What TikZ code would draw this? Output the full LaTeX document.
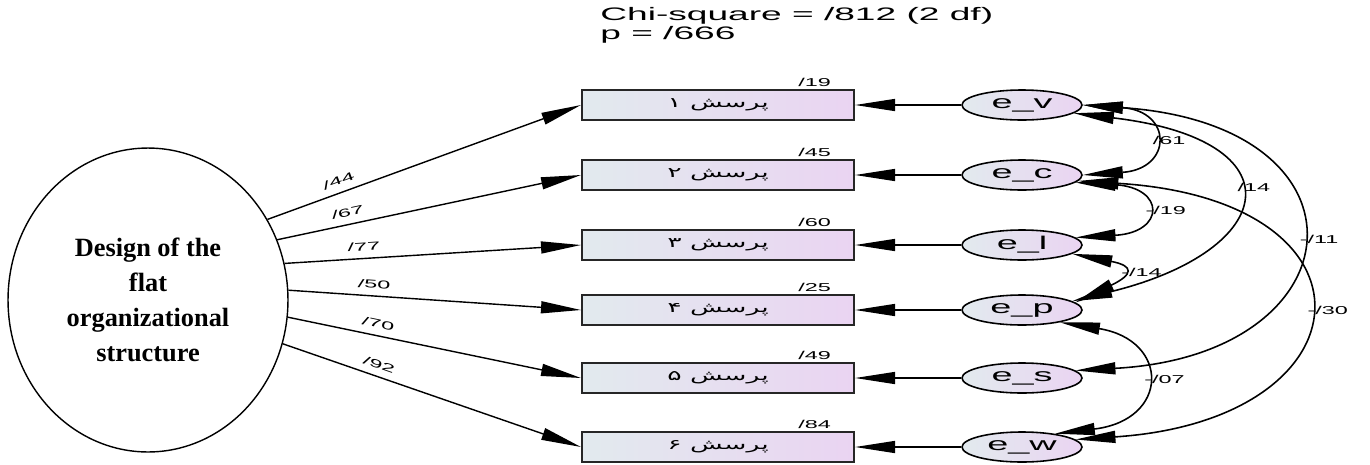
\documentclass[tikz,border=0pt]{standalone}
\usepackage{fontspec}
\setmainfont{Liberation Serif}
\newfontfamily\amosfont[FakeStretch=2.05]{Liberation Sans}
\newfontfamily\persfont[Script=Arabic,FakeStretch=1.9]{DejaVu Sans}
\TeXXeTstate=1
\usetikzlibrary{shapes.geometric,arrows.meta}
\definecolor{shadeL}{RGB}{226,234,238}
\definecolor{shadeR}{RGB}{234,212,242}
\tikzset{
  obs/.style={draw=black!85,line width=1.2pt,left color=shadeL,right color=shadeR,
    minimum width=5.44cm,minimum height=0.6cm,inner sep=0pt,
    font=\persfont\fontsize{8}{8}\selectfont},
  err/.style={ellipse,draw,line width=0.9pt,left color=shadeL,right color=shadeR,
    minimum width=2.4cm,minimum height=0.6cm,inner sep=0pt,
    font=\amosfont\fontsize{10.5}{10.5}\selectfont},
  lat/.style={ellipse,draw,line width=0.8pt,minimum width=5.6cm,minimum height=6.08cm,
    align=center,font=\bfseries\fontsize{15}{20}\selectfont},
  reg/.style={-{Triangle[length=8mm,width=2.4mm]},line width=0.8pt},
  cov/.style={{Triangle[length=8mm,width=2.4mm]}-{Triangle[length=8mm,width=2.4mm]},line width=0.9pt},
  est/.style={font=\amosfont\fontsize{6.5}{6.5}\selectfont,inner sep=1pt},
}
\begin{document}
\begin{tikzpicture}[x=0.02cm,y=-0.02cm]
\useasboundingbox (0,0) rectangle (1370,464);
\node[anchor=north west,align=left,inner sep=0pt,
  font=\amosfont\fontsize{10.3}{9.1}\selectfont] (chi) at (600,7)
  {Chi-square = /812 (2 df)\\p = /666};
\node[lat] (fac) at (148,300) {Design of the\\flat\\organizational\\structure};
% observed items
\foreach \n/\y/\d/\v in {1/105/۱/19,2/175/۲/45,3/245/۳/60,4/310/۴/25,5/378/۵/49,6/447/۶/84}{
  \node[obs] (q\n) at (718,\y) {\beginR پرسش \d\endR};
  \node[est,anchor=south east] (w\n) at ([xshift=-0.44cm]q\n.north east) {/\v};
}
% error terms
\node[err] (ev) at (1022,105) {e\_v};
\node[err] (ec) at (1022,175) {e\_c};
\node[err] (el) at (1022,245) {e\_l};
\node[err] (ep) at (1022,310) {e\_p};
\node[err] (es) at (1022,378) {e\_s};
\node[err] (ew) at (1022,447) {e\_w};
\path[reg]
    (ev) edge (q1)
    (ec) edge (q2)
    (el) edge (q3)
    (ep) edge (q4)
    (es) edge (q5)
    (ew) edge (q6);
% loadings
\draw[reg] (fac.34) -- (q1.west) node[est,sloped,above=3pt,pos=.24] {/44};
\draw[reg] (fac.25) -- (q2.west) node[est,sloped,above=3pt,pos=.24] {/67};
\draw[reg] (fac.15) -- (q3.west) node[est,sloped,above=3pt,pos=.27] {/77};
\draw[reg] (fac.4) -- (q4.west) node[est,sloped,above=3pt,pos=.29] {/50};
\draw[reg] (fac.-7) -- (q5.west) node[est,sloped,above=3pt,pos=.30] {/70};
\draw[reg] (fac.-18) -- (q6.west) node[est,sloped,above=3pt,pos=.31] {/92};
% covariances
\draw[cov] (ev.east) .. controls +(90,6) and +(90,-6) .. (ec.east)
  node[est,right,pos=.5] {/61};
\draw[cov] (ec.-8) .. controls +(90,5) and +(90,-5) .. (el.8)
  node[est,right,pos=.5] {-/19};
\draw[cov] (el.-10) .. controls +(62,12) and +(58,-28) .. (ep.8)
  node[est,right,pos=.5] {-/14};
\draw[cov] (ev.-9) .. controls (1300,140) and (1280,250) .. (ep.10)
  node[est,right,pos=.45] {/14};
\draw[cov] (ev.east) .. controls (1380,125) and (1360,355) .. (es.8)
  node[est,right,pos=.5] {-/11};
\draw[cov] (ec.-6) .. controls (1390,200) and (1372,420) .. (ew.8)
  node[est,right,pos=.5] {-/30};
\draw[cov] (ep.-18) .. controls (1170,340) and (1170,420) .. (ew.22)
  node[est,right,pos=.5] {-/07};
\end{tikzpicture}
\end{document}
